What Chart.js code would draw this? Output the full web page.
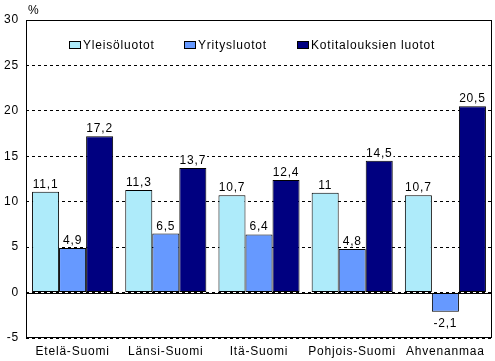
<!DOCTYPE html>
<html>
<head>
<meta charset="utf-8">
<script src="https://cdn.jsdelivr.net/npm/chart.js@4"></script>
<style>
  html, body { margin: 0; padding: 0; background: #fff; }
  #wrap { width: 495px; height: 361px; position: relative; }
</style>
</head>
<body>
<div id="wrap"><canvas id="chart"></canvas></div>
<script>
"use strict";

// ── Data ──
const REGIONS   = ["Etelä-Suomi", "Länsi-Suomi", "Itä-Suomi", "Pohjois-Suomi", "Ahvenanmaa"];
const YLEISO    = [11.1, 11.3, 10.7, 11.0, 10.7];
const YRITYS    = [4.9, 6.5, 6.4, 4.8, -2.1];
const KOTITALOUS = [17.2, 13.7, 12.4, 14.5, 20.5];
const SERIES_NAMES = ["Yleisöluotot", "Yritysluotot", "Kotitalouksien luotot"];
const COLORS = ["#AEEBFA", "#6699FF", "#000080"];

const FONT = "12px Arial, 'Liberation Sans', sans-serif";

const fmt = v => String(v).replace(".", ",");

// ── Plugins ──
const spacing = {
  id: "spacing",
  beforeDraw(chart) { chart.ctx.letterSpacing = "0.8px"; }
};

const frameAndZero = {
  id: "frameAndZero",
  beforeDatasetsDraw(chart) {
    const { ctx, chartArea: a, scales: { y } } = chart;
    ctx.save();
    ctx.strokeStyle = "#000";
    ctx.lineWidth = 1;
    const y0 = Math.round(y.getPixelForValue(0)) + 0.5;
    ctx.beginPath();
    ctx.moveTo(a.left, y0);
    ctx.lineTo(a.right, y0);
    ctx.stroke();
    ctx.restore();
  },
  afterDraw(chart) {
    const { ctx, chartArea: a } = chart;
    ctx.save();
    ctx.strokeStyle = "#000";
    ctx.lineWidth = 1;
    ctx.strokeRect(Math.round(a.left) + 0.5, Math.round(a.top) + 0.5,
                   Math.round(a.right - a.left) - 1, Math.round(a.bottom - a.top) - 1);
    // % unit label
    ctx.font = FONT;
    ctx.fillStyle = "#000";
    ctx.textAlign = "left";
    ctx.textBaseline = "alphabetic";
    ctx.fillText("%", a.left + 2, a.top - 6);
    ctx.restore();
  }
};

const valueLabels = {
  id: "valueLabels",
  afterDatasetsDraw(chart) {
    const { ctx } = chart;
    ctx.save();
    ctx.font = FONT;
    ctx.textAlign = "center";
    ctx.textBaseline = "alphabetic";
    chart.data.datasets.forEach((ds, di) => {
      chart.getDatasetMeta(di).data.forEach((bar, i) => {
        const v = ds.data[i];
        const txt = fmt(v);
        const w = ctx.measureText(txt).width;
        const yText = v >= 0 ? bar.y - 4 : bar.y + 15;
        ctx.fillStyle = "#fff";
        ctx.fillRect(bar.x - w / 2 - 1, yText - 11, w + 2, 13);
        ctx.fillStyle = "#000";
        ctx.fillText(txt, bar.x, yText);
      });
    });
    ctx.restore();
  }
};

const innerLegend = {
  id: "innerLegend",
  afterDraw(chart) {
    const { ctx, chartArea: a } = chart;
    const xs = [69, 184, 297];
    const yc = a.top + 25;
    ctx.save();
    ctx.font = FONT;
    ctx.textBaseline = "middle";
    ctx.textAlign = "left";
    SERIES_NAMES.forEach((name, i) => {
      ctx.fillStyle = COLORS[i];
      ctx.fillRect(xs[i], yc - 4, 12, 8);
      ctx.strokeStyle = "#000";
      ctx.lineWidth = 1;
      ctx.strokeRect(xs[i] + 0.5, yc - 3.5, 11, 7);
      ctx.fillStyle = "#000";
      ctx.fillText(name, xs[i] + 14, yc + 1);
    });
    ctx.restore();
  }
};

new Chart(document.getElementById("chart"), {
  type: "bar",
  data: {
    labels: REGIONS,
    datasets: [YLEISO, YRITYS, KOTITALOUS].map((d, i) => ({
      label: SERIES_NAMES[i],
      data: d,
      backgroundColor: COLORS[i],
      borderColor: "#000",
      borderWidth: 1,
      borderSkipped: false,
      categoryPercentage: 0.87,
      barPercentage: 1
    }))
  },
  options: {
    responsive: true,
    maintainAspectRatio: false,
    animation: false,
    devicePixelRatio: 1,
    layout: { padding: { top: 20, right: 3, left: 0, bottom: 0 } },
    plugins: {
      legend: { display: false },
      tooltip: { enabled: false }
    },
    scales: {
      x: {
        grid: { display: false, drawTicks: false },
        border: { display: false },
        ticks: { color: "#000", font: { family: "Arial, 'Liberation Sans', sans-serif", size: 12 }, padding: 6, maxRotation: 0, autoSkip: false },
        afterFit(s) { s.height = 23; }
      },
      y: {
        min: -5, max: 30,
        grid: { color: "#000", lineWidth: 1, drawTicks: false },
        border: { display: false, dash: [3, 3] },
        ticks: { stepSize: 5, color: "#000", font: { family: "Arial, 'Liberation Sans', sans-serif", size: 12 }, padding: 7 },
        afterFit(s) { s.width = 26; }
      }
    }
  },
  plugins: [spacing, frameAndZero, valueLabels, innerLegend]
});
</script>
</body>
</html>
